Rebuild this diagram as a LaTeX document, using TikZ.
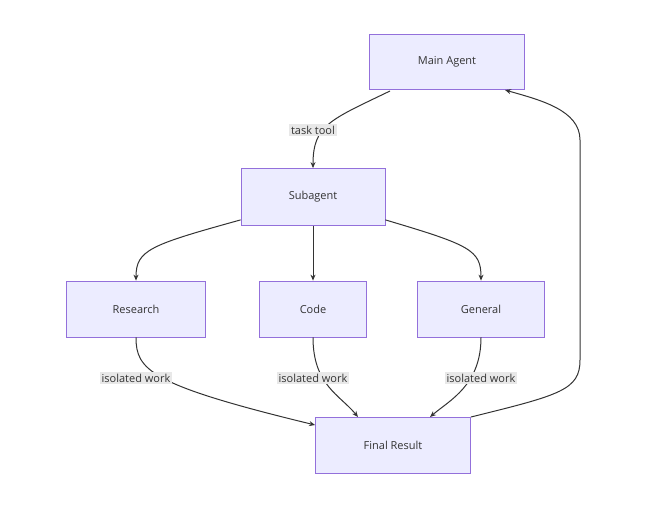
\documentclass[tikz,border=0pt]{standalone}
\usepackage{fontspec}
\setmainfont{Open Sans}
\usetikzlibrary{arrows.meta}
\definecolor{nfill}{HTML}{ECECFF}
\definecolor{nborder}{HTML}{9370DB}
\definecolor{txt}{HTML}{333333}
\definecolor{lbl}{HTML}{E8E8E8}
\begin{document}
\begin{tikzpicture}[x=1pt,y=-1pt,
  box/.style={draw=nborder,fill=nfill,line width=0.8pt,text=txt,font=\fontsize{11}{13}\selectfont,inner sep=0pt},
  lab/.style={fill=lbl,text=txt,font=\fontsize{11}{13}\selectfont,inner sep=2pt},
  edge/.style={draw=txt,line width=1pt,-{Stealth[length=6pt,width=5pt]}}]
\useasboundingbox (0,0) rectangle (664,506);
\node[box,minimum width=155pt,minimum height=55pt] (main) at (447,62) {Main Agent};
\node[box,minimum width=144pt,minimum height=57pt] (sub) at (313,197) {Subagent};
\node[box,minimum width=139pt,minimum height=56pt] (res) at (136,309) {Research};
\node[box,minimum width=107pt,minimum height=56pt] (code) at (313,309) {Code};
\node[box,minimum width=127pt,minimum height=56pt] (gen) at (481,309) {General};
\node[box,minimum width=155pt,minimum height=56pt] (fin) at (393,445) {Final Result};
\draw[edge] (390,91) .. controls (330,120) and (313,125) .. (sub.north);
\node[lab] (l1) at (313,130) {task tool};
\draw[edge] (sub.south west) ++(0,-6) .. controls (150,245) and (136,250) .. (res.north);
\draw[edge] (sub.south) -- (code.north);
\draw[edge] (sub.south east) ++(0,-6) .. controls (470,245) and (481,250) .. (gen.north);
\draw[edge] (res.south) .. controls (136,370) and (150,385) .. (fin.west |- 0,425);
\node[lab] (l2) at (136,378) {isolated work};
\draw[edge] (code.south) .. controls (313,385) and (340,395) .. (358,417);
\node[lab] (l3) at (313,378) {isolated work};
\draw[edge] (gen.south) .. controls (481,385) and (450,400) .. (430,417);
\node[lab] (l4) at (481,378) {isolated work};
\draw[edge] (471,417) .. controls (560,395) and (580,390) .. (580,360) -- (580,140) .. controls (580,110) and (540,100) .. (505,90);
\end{tikzpicture}
\end{document}
